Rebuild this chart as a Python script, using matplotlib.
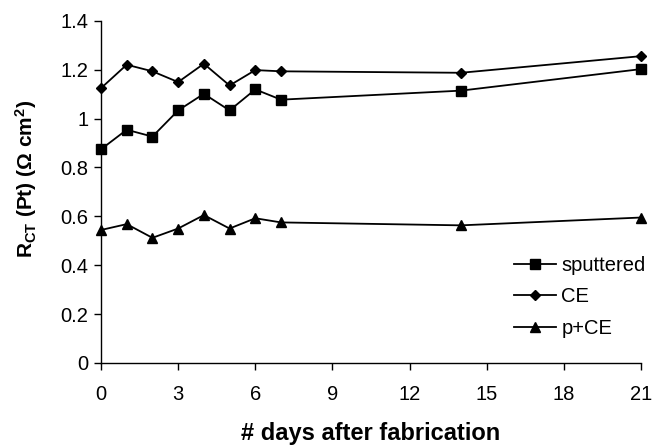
import matplotlib
matplotlib.use("Agg")
import matplotlib.pyplot as plt

plt.rcParams['font.family'] = ['Liberation Sans', 'DejaVu Sans']
plt.rcParams['mathtext.fontset'] = 'custom'
plt.rcParams['mathtext.rm'] = 'Liberation Sans:bold'
plt.rcParams['mathtext.bf'] = 'Liberation Sans:bold'
plt.rcParams['mathtext.it'] = 'Liberation Sans:bold'

days = [0, 1, 2, 3, 4, 5, 6, 7, 14, 21]
sputtered = [0.874, 0.954, 0.926, 1.033, 1.101, 1.033, 1.119, 1.077, 1.114, 1.202]
ce = [1.124, 1.220, 1.193, 1.149, 1.224, 1.135, 1.198, 1.193, 1.187, 1.255]
p_ce = [0.544, 0.568, 0.512, 0.550, 0.605, 0.550, 0.592, 0.575, 0.563, 0.595]

series_names = ["sputtered", "CE", "p+CE"]
xticks = [0, 3, 6, 9, 12, 15, 18, 21]
yticks = [0, 0.2, 0.4, 0.6, 0.8, 1.0, 1.2, 1.4]
ytick_labels = ["0", "0.2", "0.4", "0.6", "0.8", "1", "1.2", "1.4"]

fig = plt.figure(figsize=(6.53, 4.45), dpi=100)
ax = fig.add_axes([101/653, 1-363/445, 540/653, (363-20.7)/445])

lw = 1.3
ax.plot(days, sputtered, color='black', lw=lw, marker='s', ms=6.5, label=series_names[0], clip_on=False)
ax.plot(days, ce, color='black', lw=lw, marker='D', ms=5.5, label=series_names[1], clip_on=False)
ax.plot(days, p_ce, color='black', lw=lw, marker='^', ms=7.5, label=series_names[2], clip_on=False)

ax.set_xlim(0, 21)
ax.set_ylim(0, 1.4)
ax.set_xticks(xticks)
ax.set_yticks(yticks)
ax.set_yticklabels(ytick_labels)
for s in ['top', 'right']:
    ax.spines[s].set_visible(False)
for s in ['left', 'bottom']:
    ax.spines[s].set_linewidth(1.0)
ax.tick_params(axis='both', direction='out', length=5, width=1.0, labelsize=14.5)
ax.tick_params(axis='y', pad=4)
ax.tick_params(axis='x', pad=10.5)

ax.set_xlabel("# days after fabrication", fontsize=17, fontweight='bold', labelpad=13)
ax.set_ylabel(r"R$_{\mathbf{CT}}$ (Pt) ($\mathbf{\Omega}$ cm$^{\mathbf{2}}$)", fontsize=15,
              fontweight='bold')
ax.yaxis.set_label_coords(-0.115, 0.5375)

ax.legend(loc='center left', bbox_to_anchor=(514/653, 1-297/445), bbox_transform=fig.transFigure,
          frameon=False, fontsize=14.5, handlelength=2.1, handletextpad=0.25, labelspacing=0.62,
          borderpad=0, borderaxespad=0)

fig.savefig("out.png", dpi=100)
